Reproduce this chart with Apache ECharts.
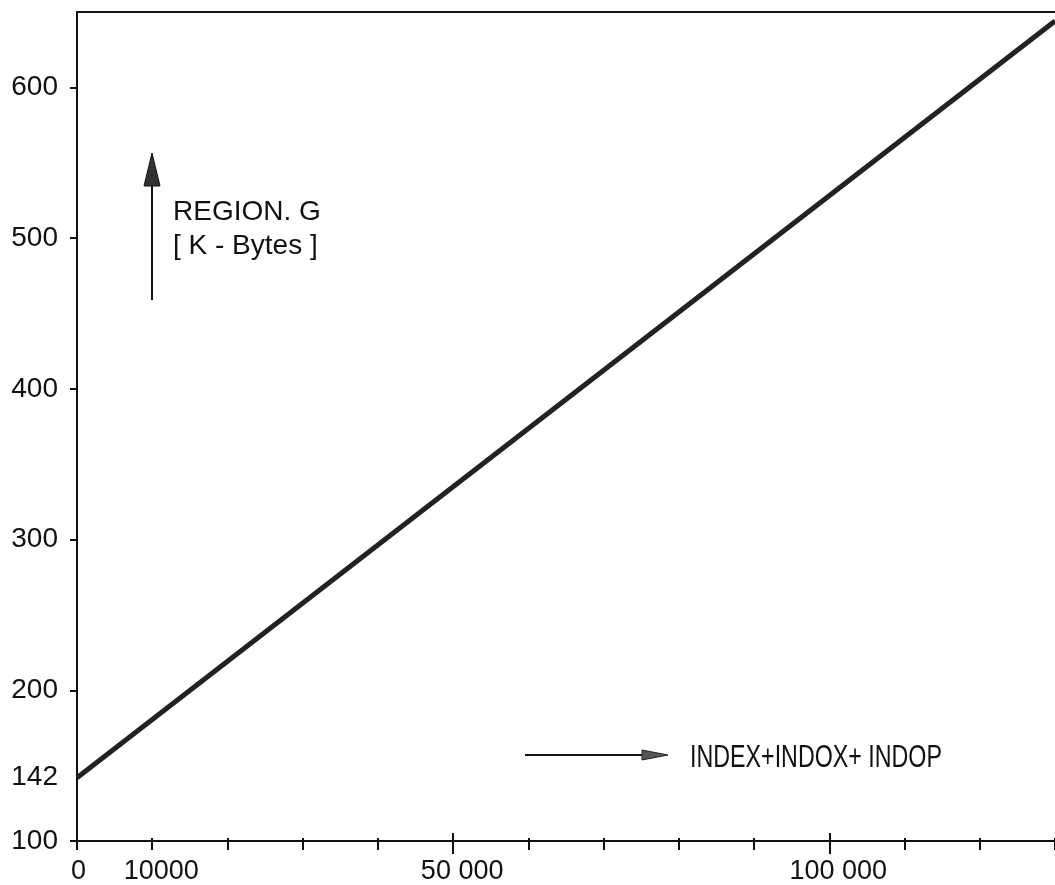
<!DOCTYPE html>
<html>
<head>
<meta charset="utf-8">
<script src="https://cdn.jsdelivr.net/npm/echarts@6/dist/echarts.min.js"></script>
<style>html,body{margin:0;padding:0;background:#fff}#c{width:1055px;height:885px}</style>
</head>
<body>
<div id="c"></div>
<script>
// Data
const lineX = [0, 130000];
const lineY = [142, 644];
const xTickValues = [0,10000,20000,30000,40000,50000,60000,70000,80000,90000,100000,110000,120000,130000];
const xMajorTicks = [50000, 100000];
const xLabelValues = [0, 10000, 50000, 100000];
const xLabelTexts = ['0', '10000', '50 000', '100 000'];
const yTickValues = [100, 200, 300, 400, 500, 600];
const yLabelValues = [100, 142, 200, 300, 400, 500, 600];

const FONT = 'Liberation Sans, Arial, sans-serif';
const INK = '#111';

const gridRect = {left: 77, right: 0, top: 12, bottom: 42};
const XMIN = 0, XMAX = 130000, YMIN = 100, YMAX = 650;

function hiddenY(idx) {
  return {type:'value', gridIndex: idx, min: YMIN, max: YMAX, show: false};
}
function tickX(idx, values, offset, len) {
  return {
    type:'value', gridIndex: idx, position:'bottom', offset: offset, min: XMIN, max: XMAX,
    axisLine:{show:false}, splitLine:{show:false}, axisLabel:{show:false},
    axisTick:{show:true, inside: false, length: len, customValues: values,
      lineStyle:{color: INK, width: 2}}
  };
}

const chart = echarts.init(document.getElementById('c'), null, {renderer:'canvas'});
chart.setOption({
  backgroundColor: '#fff',
  animation: false,
  grid: [Object.assign({}, gridRect), Object.assign({}, gridRect), Object.assign({}, gridRect)],
  xAxis: [
    {
      type:'value', gridIndex:0, position:'bottom', min: XMIN, max: XMAX,
      axisLine:{show:true, lineStyle:{color: INK, width: 2}},
      axisTick:{show:false},
      splitLine:{show:false},
      axisLabel:{
        show:true, customValues: xLabelValues, margin: 17,
        fontFamily: FONT, fontSize: 27, color: INK,
        formatter: function(v){
          const i = xLabelValues.indexOf(v);
          if (i < 0) return '';
          return (v === 0 ? '{z|' : '{s|') + xLabelTexts[i] + '}';
        },
        rich: {
          z: {fontFamily: FONT, fontSize: 27, color: INK, padding:[0,0,0,3]},
          s: {fontFamily: FONT, fontSize: 27, color: INK, padding:[0,0,0,18]}
        }
      }
    },
    {
      type:'value', gridIndex:0, position:'top', min: XMIN, max: XMAX,
      axisLine:{show:true, lineStyle:{color: INK, width: 2}},
      axisTick:{show:false}, axisLabel:{show:false}, splitLine:{show:false}
    },
    tickX(1, xTickValues, -5, 12),
    tickX(2, xMajorTicks, -10, 21)
  ],
  yAxis: [
    {
      type:'value', gridIndex:0, min: YMIN, max: YMAX,
      axisLine:{show:true, lineStyle:{color: INK, width: 2}},
      axisTick:{show:true, length: 7, customValues: yTickValues, lineStyle:{color: INK, width: 2}},
      splitLine:{show:false},
      axisLabel:{show:true, customValues: yLabelValues, margin: 19,
        fontFamily: FONT, fontSize: 28, color: INK}
    },
    hiddenY(1), hiddenY(2)
  ],
  series: [{
    type:'line', xAxisIndex:0, yAxisIndex:0,
    data: lineX.map((x,i)=>[x, lineY[i]]),
    showSymbol:false, symbol:'none',
    lineStyle:{color:'#222', width:5},
    clip: true
  }],
  graphic: [
    // up arrow
    {type:'line', shape:{x1:152, y1:300, x2:152, y2:180}, style:{stroke: INK, lineWidth: 2}},
    {type:'polygon', shape:{points:[[152,153],[144,186],[160,186]]}, style:{fill:'#333', stroke: INK, lineWidth:1}},
    {type:'text', x:173, y:198, style:{text:'REGION. G', font:'28px ' + FONT, fill: INK, verticalAlign:'top'}},
    {type:'text', x:173, y:232, style:{text:'[ K - Bytes ]', font:'28px ' + FONT, fill: INK, verticalAlign:'top'}},
    // right arrow
    {type:'line', shape:{x1:525, y1:755, x2:645, y2:755}, style:{stroke: INK, lineWidth: 2}},
    {type:'polygon', shape:{points:[[668,755],[642,750],[642,760]]}, style:{fill:'#555', stroke: '#222', lineWidth:1}},
    {type:'text', x:690, y:743, scaleX:0.75, style:{text:'INDEX+INDOX+ INDOP', font:'31px ' + FONT, fill: INK, verticalAlign:'top'}}
  ]
});
</script>
</body>
</html>
